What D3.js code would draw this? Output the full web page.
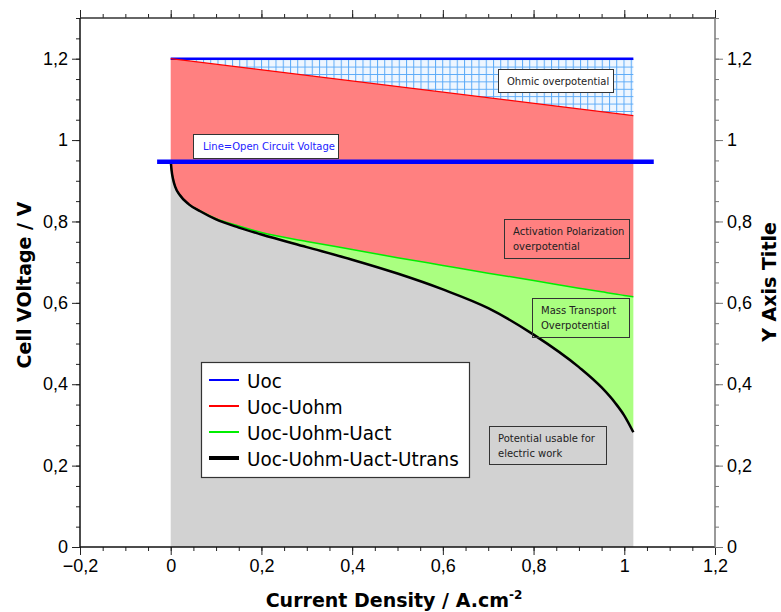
<!DOCTYPE html>
<html>
<head>
<meta charset="utf-8">
<script src="https://cdn.jsdelivr.net/npm/d3@7"></script>
<style>
  body { margin: 0; background: #fff; }
  svg { display: block; font-family: "DejaVu Sans", sans-serif; }
</style>
</head>
<body>
<div id="chart"></div>
<script>
// current density samples (A.cm-2)
const currentDensity = [0, 0.002, 0.005, 0.01, 0.02, 0.04, 0.065, 0.1, 0.15, 0.2, 0.3, 0.4, 0.5, 0.6, 0.7, 0.8, 0.9, 0.95, 0.98, 1.0, 1.02];
// Uoc-Uohm-Uact (green)
const uAct = [0.95, 0.925, 0.905, 0.885, 0.865, 0.842, 0.826, 0.807, 0.789, 0.773, 0.751, 0.731, 0.711, 0.692, 0.673, 0.655, 0.636, 0.627, 0.622, 0.618, 0.615];
// Uoc-Uohm-Uact-Utrans (black)
const uTrans = [0.95, 0.925, 0.905, 0.885, 0.865, 0.842, 0.825, 0.805, 0.785, 0.768, 0.737, 0.706, 0.672, 0.633, 0.587, 0.522, 0.442, 0.392, 0.354, 0.323, 0.282];
// straight lines
const uocX = [0, 1.02], uocV = [1.2, 1.2];
const uohmX = [0, 1.02], uohmV = [1.2, 1.06];
const ocvX = [-0.03, 1.065], ocvV = [0.947, 0.947];

const xTicks = [-0.2, 0, 0.2, 0.4, 0.6, 0.8, 1, 1.2];
const yTicks = [0, 0.2, 0.4, 0.6, 0.8, 1, 1.2];
const legendItems = ["Uoc", "Uoc-Uohm", "Uoc-Uohm-Uact", "Uoc-Uohm-Uact-Utrans"];
const legendColors = ["#0000ff", "#ff0000", "#00ee00", "#000000"];

const width = 781, height = 612;
const margin = {top: 18, right: 66, bottom: 65, left: 80};

const x = d3.scaleLinear().domain([-0.2, 1.2]).range([margin.left, width - margin.right]);
const y = d3.scaleLinear().domain([0, 1.3]).range([height - margin.bottom, margin.top]);

const loc = d3.formatLocale({decimal: ",", thousands: ".", grouping: [3], currency: ["", ""], minus: "\u2212"});
const fmt = loc.format(".2~f");

const svg = d3.select("#chart").append("svg")
  .attr("width", width).attr("height", height);

// hatch pattern for ohmic region
const defs = svg.append("defs");
const pat = defs.append("pattern")
  .attr("id", "grid").attr("patternUnits", "userSpaceOnUse")
  .attr("width", 7.25).attr("height", 7.4);
pat.append("rect").attr("width", 7.25).attr("height", 7.4).attr("fill", "#eef6ff");
pat.append("path").attr("d", "M0.5,0V7.4M0,0.5H7.25")
  .attr("stroke", "#5aaaf8").attr("stroke-width", 1);

const pts = (xs, vs) => xs.map((d, i) => [d, vs[i]]);
const line = d3.line().x(d => x(d[0])).y(d => y(d[1])).curve(d3.curveMonotoneX);

// interpolate straight line series at the sample points for the areas
const lerp = (xs, vs, t) => vs[0] + (vs[1] - vs[0]) * (t - xs[0]) / (xs[1] - xs[0]);
const bands = currentDensity.map((t, i) => ({
  t, uoc: lerp(uocX, uocV, t), uohm: lerp(uohmX, uohmV, t), act: uAct[i], trans: uTrans[i]
}));
const area = (top, bot) => d3.area().x(d => x(d.t)).y0(d => y(bot(d))).y1(d => y(top(d))).curve(d3.curveMonotoneX);

const g = svg.append("g");
g.append("path").datum(bands).attr("fill", "url(#grid)").attr("d", area(d => d.uoc, d => d.uohm));
g.append("path").datum(bands).attr("fill", "#ff8080").attr("d", area(d => d.uohm, d => d.act));
g.append("path").datum(bands).attr("fill", "#aaff80").attr("d", area(d => d.act, d => d.trans));
g.append("path").datum(bands).attr("fill", "#d2d2d2").attr("d", area(d => d.trans, d => 0));

g.append("path").datum(pts(uocX, uocV)).attr("fill", "none").attr("stroke", "#0000ff").attr("stroke-width", 2.5).attr("d", line);
g.append("path").datum(pts(uohmX, uohmV)).attr("fill", "none").attr("stroke", "#ff0000").attr("stroke-width", 1.2).attr("d", line);
g.append("path").datum(pts(currentDensity, uAct)).attr("fill", "none").attr("stroke", "#00ee00").attr("stroke-width", 1.5).attr("d", line);
g.append("path").datum(pts(currentDensity, uTrans)).attr("fill", "none").attr("stroke", "#000").attr("stroke-width", 2.5).attr("d", line);
g.append("path").datum(pts(ocvX, ocvV)).attr("fill", "none").attr("stroke", "#0000ff").attr("stroke-width", 4.5).attr("d", line);

// annotation boxes
function note(x0, y0, w, h, lines, opts) {
  const b = svg.append("g");
  b.append("rect").attr("x", x0 + 0.5).attr("y", y0 + 0.5).attr("width", w).attr("height", h)
    .attr("fill", opts.fill || "none").attr("stroke", "#333").attr("stroke-width", 1);
  lines.forEach((s, i) => {
    b.append("text").attr("x", x0 + opts.dx).attr("y", y0 + opts.dy + i * 15)
      .attr("font-size", 10).attr("fill", opts.color || "#222").text(s);
  });
}
note(193, 134, 145, 24, ["Line=Open Circuit Voltage"], {fill: "#fff", color: "#2222ff", dx: 10, dy: 16});
note(498, 69, 115, 23, ["Ohmic overpotential"], {fill: "#fff", dx: 9, dy: 15.5});
note(504, 219, 125, 39, ["Activation Polarization", "overpotential"], {dx: 9, dy: 16});
note(532, 298, 97, 39, ["Mass Transport", "Overpotential"], {dx: 9, dy: 16});
note(489, 426, 117, 38, ["Potential usable for", "electric work"], {dx: 9, dy: 16});

// axes
const minorX = d3.range(-0.2, 1.2001, 0.05);
const minorY = d3.range(0, 1.3001, 0.05);
const bottom = height - margin.bottom, right = width - margin.right;

function styleAxis(sel, color) {
  sel.select(".domain").remove();
  sel.selectAll("line").attr("stroke", color);
  sel.selectAll("text").attr("font-size", 18).attr("fill", "#000");
}
svg.append("g").attr("transform", `translate(0,${bottom})`)
  .call(d3.axisBottom(x).tickValues(minorX).tickSize(4).tickFormat(""))
  .call(s => styleAxis(s, "#222"));
svg.append("g").attr("transform", `translate(0,${bottom})`)
  .call(d3.axisBottom(x).tickValues(xTicks).tickSize(8).tickPadding(4).tickFormat(fmt))
  .call(s => styleAxis(s, "#222"));
svg.append("g").attr("transform", `translate(0,${margin.top})`)
  .call(d3.axisTop(x).tickValues(minorX).tickSize(4).tickFormat(""))
  .call(s => styleAxis(s, "#222"));
svg.append("g").attr("transform", `translate(0,${margin.top})`)
  .call(d3.axisTop(x).tickValues(xTicks).tickSize(8).tickFormat(""))
  .call(s => styleAxis(s, "#222"));
svg.append("g").attr("transform", `translate(${margin.left},0)`)
  .call(d3.axisLeft(y).tickValues(minorY).tickSize(4).tickFormat(""))
  .call(s => styleAxis(s, "#222"));
svg.append("g").attr("transform", `translate(${margin.left},0)`)
  .call(d3.axisLeft(y).tickValues(yTicks).tickSize(8).tickPadding(4).tickFormat(fmt))
  .call(s => styleAxis(s, "#222"));
svg.append("g").attr("transform", `translate(${right},0)`)
  .call(d3.axisRight(y).tickValues(minorY).tickSize(4).tickFormat(""))
  .call(s => styleAxis(s, "#777"));
svg.append("g").attr("transform", `translate(${right},0)`)
  .call(d3.axisRight(y).tickValues(yTicks).tickSize(8).tickPadding(4).tickFormat(fmt))
  .call(s => styleAxis(s, "#777"));

// frame
svg.append("line").attr("x1", margin.left).attr("x2", right).attr("y1", margin.top).attr("y2", margin.top).attr("stroke", "#333").attr("stroke-width", 1.5);
svg.append("line").attr("x1", margin.left).attr("x2", right).attr("y1", bottom).attr("y2", bottom).attr("stroke", "#111").attr("stroke-width", 1.5);
svg.append("line").attr("x1", margin.left).attr("x2", margin.left).attr("y1", margin.top).attr("y2", bottom).attr("stroke", "#111").attr("stroke-width", 1.5);
svg.append("line").attr("x1", right).attr("x2", right).attr("y1", margin.top).attr("y2", bottom).attr("stroke", "#777").attr("stroke-width", 1.5);

// legend
const lg = svg.append("g").attr("transform", "translate(201,362)");
lg.append("rect").attr("x", 0.5).attr("y", 0.5).attr("width", 268).attr("height", 115)
  .attr("fill", "#fff").attr("stroke", "#333").attr("stroke-width", 1.2);
legendItems.forEach((name, i) => {
  const cy = 18 + i * 26;
  lg.append("line").attr("x1", 8).attr("x2", 38).attr("y1", cy).attr("y2", cy)
    .attr("stroke", legendColors[i]).attr("stroke-width", i === 3 ? 4 : 2);
  lg.append("text").attr("transform", `translate(46,${cy + 7.5}) scale(0.92,1)`)
    .attr("font-size", 20).attr("fill", "#000").text(name);
});

// axis titles
svg.append("text").attr("transform", "translate(31,285) rotate(-90)").attr("text-anchor", "middle")
  .attr("font-size", 19).attr("font-weight", "bold").text("Cell VOltage / V");
svg.append("text").attr("transform", "translate(776,282) rotate(-90)").attr("text-anchor", "middle")
  .attr("font-size", 19).attr("font-weight", "bold").text("Y Axis Title");
const xt = svg.append("text").attr("x", 394).attr("y", 607).attr("text-anchor", "middle")
  .attr("font-size", 19).attr("font-weight", "bold");
xt.append("tspan").text("Current Density / A.cm");
xt.append("tspan").attr("dy", -8).attr("font-size", 12).text("-2");
</script>
</body>
</html>
